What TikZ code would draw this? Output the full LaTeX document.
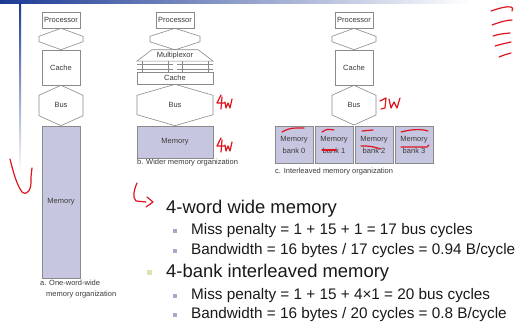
\documentclass[tikz,border=0pt]{standalone}
\usepackage{fontspec}
\setmainfont{Liberation Sans}
\usetikzlibrary{calc}
\definecolor{boxline}{HTML}{8A8A8A}
\definecolor{memfill}{HTML}{C6C6E0}
\definecolor{labelgray}{HTML}{3A3A3A}
\definecolor{slideblue}{HTML}{1C3A94}
\definecolor{bulletone}{HTML}{DCE2B0}
\definecolor{bullettwo}{HTML}{A4AAC8}
\definecolor{penred}{HTML}{E0141E}
\def\unitw{38}
% hexagon shaped bus between two points
\newcommand{\drawbus}[4]{%
  \draw[busline] (#1) -- ++(#3,#4) -- ($(#2)+(#3,-#4)$) -- (#2) -- ++(-#3,-#4) -- ($(#1)+(-#3,#4)$) -- cycle;}
% handwritten "4w"
\newcommand{\penfourw}[1]{%
  \draw[ink,shift={(#1)}] (4,0) -- (0,8) -- (7,8) (5,2) -- (4,14)
    (8,7) -- (9,13) -- (11,8) -- (13,13) -- (15,4);}

\begin{document}
\begin{tikzpicture}[x=1pt,y=-1pt]
    \tikzstyle{unit}=[draw=boxline,line width=0.6pt,fill=white,inner sep=0pt,text=labelgray,
        font=\fontsize{7.5}{12}\selectfont,minimum width=\unitw]
    \tikzstyle{memunit}=[unit,fill=memfill]
    \tikzstyle{busline}=[draw=boxline,line width=0.6pt,line join=miter]
    \tikzstyle{caption}=[inner sep=0pt,text=labelgray,font=\fontsize{7.5}{11}\selectfont,align=left,anchor=north west]
    \tikzstyle{lvlone}=[inner sep=0pt,anchor=base west,text=black!90,font=\fontsize{18.4}{22}\selectfont]
    \tikzstyle{lvltwo}=[inner sep=0pt,anchor=base west,text=black!90,font=\fontsize{15.3}{18}\selectfont]
    \tikzstyle{dotone}=[fill=bulletone,inner sep=0pt,minimum size=5pt]
    \tikzstyle{dottwo}=[fill=bullettwo,inner sep=0pt,minimum size=4pt]
    \tikzstyle{ink}=[draw=penred,line width=1.2pt,line cap=round,line join=round]

    \fill[white] (0,0) rectangle (516,323);
    \useasboundingbox (0,0) rectangle (516,323);

    % Slide frame
    \shade[left color=slideblue,middle color=slideblue!55,right color=white] (0,0) rectangle (470,3.5);
    \shade[top color=slideblue,middle color=slideblue!75,bottom color=white] (19,3) rectangle (21,172);

    % a. one-word-wide
    \node[unit,minimum height=16] (procA) at (61,20) {Processor};
    \node[unit,minimum height=35] (cacheA) at (61,67.5) {Cache};
    \node[memunit,minimum height=152] (memA) at (61,202) {Memory};
    \drawbus{procA.south}{cacheA.north}{22}{8}
    \drawbus{cacheA.south}{memA.north}{22}{10}
    \node[text=labelgray,font=\fontsize{7.5}{9}\selectfont] at (61,105) {Bus};
    \node[caption] (capA) at (40,280) {a. One-word-wide\\\hspace{6pt}memory organization};

    % b. wider memory
    \node[unit,minimum height=16] (procB) at (175,20) {Processor};
    \node[inner sep=0pt,text=labelgray,font=\fontsize{7.5}{9}\selectfont,minimum width=76,minimum height=11]
        (muxB) at (175,55.5) {Multiplexor};
    \draw[busline] (muxB.south west) -- ($(muxB.north west)+(15,0)$) -- ($(muxB.north east)+(-15,0)$)
        -- (muxB.south east) -- cycle;
    \node[unit,minimum width=76,minimum height=12] (cacheB) at (175,78) {Cache};
    \node[memunit,minimum width=76,minimum height=32] (memB) at (175,142) {Memory};
    \drawbus{procB.south}{muxB.north}{25}{8}
    \drawbus{cacheB.south}{memB.north}{38}{11}
    \node[text=labelgray,font=\fontsize{7.5}{9}\selectfont] at (175,105) {Bus};
    \foreach \x in {137,177} {
        \draw[busline] (\x,64) -- ++(36,0) (\x,69) -- ++(36,0);
        \draw[busline] (\x+5,61) -- ++(0,11) (\x+31,61) -- ++(0,11);
    }
    \node[caption] (capB) at (137,159) {b. Wider memory organization};

    % c. interleaved
    \node[unit,minimum height=16] (procC) at (354,20) {Processor};
    \node[unit,minimum height=35] (cacheC) at (354,67.5) {Cache};
    \coordinate (busC) at (354,125);
    \foreach \i/\x in {0/294,1/334,2/374,3/414}
        \node[memunit,minimum height=37,align=center] (bank-\i) at (\x,144.5) {Memory\\bank \i};
    \drawbus{procC.south}{cacheC.north}{22}{8}
    \drawbus{cacheC.south}{busC}{22}{10}
    \node[text=labelgray,font=\fontsize{7.5}{9}\selectfont] at (354,105) {Bus};
    \node[caption] (capC) at (275,168) {c. Interleaved memory organization};

    % Bullet text
    \node[lvlone] (hdWide) at (166,213) {4-word wide memory};
    \node[lvltwo] (missWide) at (191,234) {Miss penalty = 1 + 15 + 1 = 17 bus cycles};
    \node[lvltwo] (bwWide) at (191,254) {Bandwidth = 16 bytes / 17 cycles = 0.94 B/cycle};
    \node[lvlone] (hdBank) at (166,277) {4-bank interleaved memory};
    \node[lvltwo] (missBank) at (191,299) {Miss penalty = 1 + 15 + 4×1 = 20 bus cycles};
    \node[lvltwo] (bwBank) at (191,318) {Bandwidth = 16 bytes / 20 cycles = 0.8 B/cycle};
    \node[dotone] (sq-bank) at (149.5,272.5) {};
    \foreach \y in {234,254,299,318}
        \node[dottwo] (sq-\y) at (175,\y-3.5) {};

    % Red pen notes
    \draw[ink] (491,11) .. controls (500,8) and (507,6) .. (511,7) .. controls (513,8) .. (512,11);
    \draw[ink] (492,25) .. controls (500,22) and (507,20) .. (512,20);
    \draw[ink] (493,36) .. controls (500,34) .. (510,33);
    \draw[ink] (495,46) .. controls (502,44) .. (511,42);
    \draw[ink] (499,57) .. controls (504,55) .. (511,53);
    \draw[ink] (10,159) .. controls (14,175) and (17,185) .. (22,192)
        .. controls (27,196) and (31,190) .. (31,182) .. controls (31,176) .. (32,168);
    \draw[ink] (137,183) .. controls (134,190) and (132,197) .. (136,201) -- (146,202);
    \draw[ink] (147,197) -- (153,202) -- (146,207);
    \penfourw{217,95}
    \penfourw{217,138}
    \draw[ink] (380,101) .. controls (383,99) .. (386,98) -- (385,108) -- (381,109);
    \draw[ink] (389,99) -- (391,108) -- (394,102) -- (397,108) -- (400,98);
    \draw[ink] (282,132) .. controls (290,128) .. (304,128);
    \draw[ink] (322,132) .. controls (327,129) .. (334,130);
    \draw[ink] (322,150) -- (336,150);
    \draw[ink] (362,131) -- (373,130);
    \draw[ink] (361,146) .. controls (370,146) .. (381,149);
    \draw[ink] (401,132) .. controls (412,129) and (422,129) .. (428,131);
    \draw[ink] (401,147) -- (427,147) -- (429,145);
\end{tikzpicture}
\end{document}
